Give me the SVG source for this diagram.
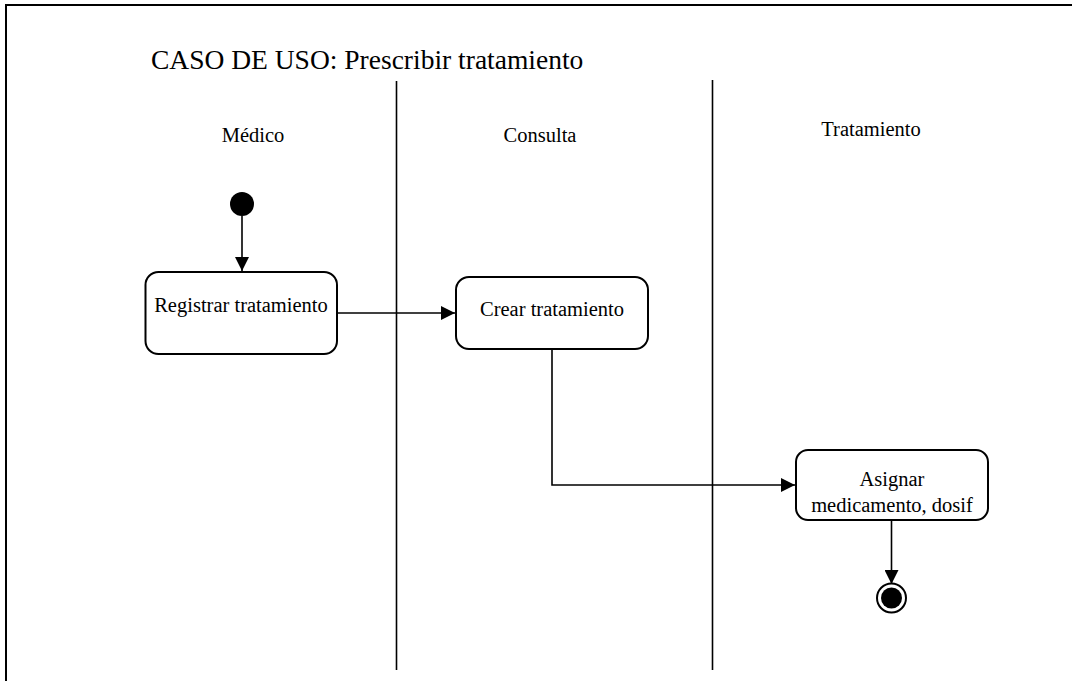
<svg xmlns="http://www.w3.org/2000/svg" width="1072" height="681" viewBox="0 0 1072 681">
  <style>
    .frame { fill: none; stroke: #000; stroke-width: 2; }
    .lane { stroke: #000; stroke-width: 1.6; }
    .act { fill: #fff; stroke: #000; stroke-width: 2; }
    .edge { fill: none; stroke: #000; stroke-width: 1.6; }
    .t { font-family: "Liberation Serif", "Times New Roman", serif; fill: #000; }
    .lbl { font-size: 20.5px; text-anchor: middle; }
    .title { font-size: 27.5px; }
  </style>
  <defs>
    <marker id="arrow" viewBox="0 0 14 14" refX="14" refY="7" markerWidth="14" markerHeight="14" markerUnits="userSpaceOnUse" orient="auto">
      <path d="M0,0 L14,7 L0,14 Z" fill="#000"/>
    </marker>
  </defs>
  <rect width="1072" height="681" fill="#fff"/>

  <!-- outer frame: top and left edges -->
  <path class="frame" d="M6,681 V5 H1072"/>

  <text class="t title" x="151" y="69">CASO DE USO: Prescribir tratamiento</text>

  <!-- swimlanes -->
  <g id="lanes">
    <line class="lane" x1="396.5" y1="81" x2="396.5" y2="670"/>
    <line class="lane" x1="712.5" y1="80" x2="712.5" y2="670"/>
    <text class="t lbl" x="253" y="142">Médico</text>
    <text class="t lbl" x="540" y="142">Consulta</text>
    <text class="t lbl" x="871" y="136">Tratamiento</text>
  </g>

  <g id="connectors">
    <line class="edge" x1="242" y1="216" x2="242" y2="271" marker-end="url(#arrow)"/>
    <line class="edge" x1="337" y1="313" x2="455" y2="313" marker-end="url(#arrow)"/>
    <polyline class="edge" points="552,349 552,485 795,485" marker-end="url(#arrow)"/>
    <line class="edge" x1="891.5" y1="520" x2="891.5" y2="584" marker-end="url(#arrow)"/>
  </g>

  <g id="start">
    <circle cx="242" cy="204" r="12" fill="#000"/>
  </g>

  <g id="registrar">
    <rect class="act" x="145.5" y="272" width="191.5" height="82" rx="13"/>
    <text class="t lbl" x="241" y="312">Registrar tratamiento</text>
  </g>

  <g id="crear">
    <rect class="act" x="456" y="277" width="192" height="72" rx="13"/>
    <text class="t lbl" x="552" y="316">Crear tratamiento</text>
  </g>

  <g id="asignar">
    <rect class="act" x="796" y="450" width="192" height="70" rx="12"/>
    <text class="t lbl" x="892" y="486">Asignar</text>
    <text class="t lbl" x="892" y="512">medicamento, dosif</text>
  </g>

  <g id="end">
    <circle cx="891.5" cy="598" r="14.5" fill="#fff" stroke="#000" stroke-width="2"/>
    <circle cx="891.5" cy="598" r="10.5" fill="#000"/>
  </g>
</svg>
